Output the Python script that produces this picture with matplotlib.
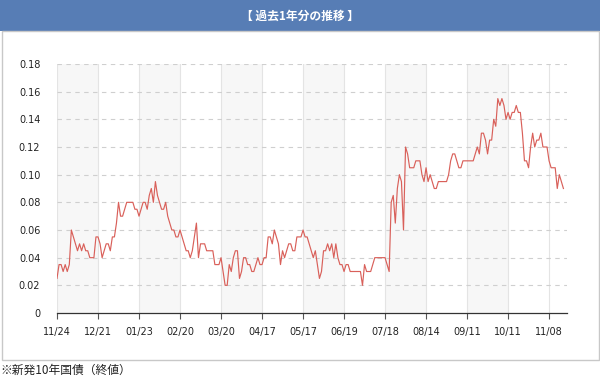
import numpy as np
import matplotlib
matplotlib.use("Agg")
import matplotlib.pyplot as plt
from matplotlib.patches import Rectangle

plt.rcParams['font.family'] = ['DejaVu Sans', 'Noto Sans CJK JP']

TITLE = "【 過去1年分の推移 】"
NOTE = "※新発10年国債（終値）"

tick_labels = ["11/24", "12/21", "01/23", "02/20", "03/20", "04/17", "05/17",
               "06/19", "07/18", "08/14", "09/11", "10/11", "11/08"]

# yield, one value per trading day (20 days between labels)
yields = [
    0.025, 0.035, 0.035, 0.03, 0.035, 0.03, 0.035, 0.06, 0.055, 0.05,
    0.045, 0.05, 0.045, 0.05, 0.045, 0.045, 0.04, 0.04, 0.04, 0.055,
    0.055, 0.05, 0.04, 0.045, 0.05, 0.05, 0.045, 0.055, 0.055, 0.065,
    0.08, 0.07, 0.07, 0.075, 0.08, 0.08, 0.08, 0.08, 0.075, 0.075,
    0.07, 0.075, 0.08, 0.08, 0.075, 0.085, 0.09, 0.08, 0.095, 0.085,
    0.08, 0.075, 0.075, 0.08, 0.07, 0.065, 0.06, 0.06, 0.055, 0.055,
    0.06, 0.055, 0.05, 0.045, 0.045, 0.04, 0.045, 0.055, 0.065, 0.04,
    0.05, 0.05, 0.05, 0.045, 0.045, 0.045, 0.045, 0.035, 0.035, 0.035,
    0.04, 0.03, 0.02, 0.02, 0.035, 0.03, 0.04, 0.045, 0.045, 0.025,
    0.03, 0.04, 0.04, 0.035, 0.035, 0.03, 0.03, 0.035, 0.04, 0.035,
    0.035, 0.04, 0.04, 0.055, 0.055, 0.05, 0.06, 0.055, 0.05, 0.035,
    0.045, 0.04, 0.045, 0.05, 0.05, 0.045, 0.045, 0.055, 0.055, 0.055,
    0.06, 0.055, 0.055, 0.05, 0.045, 0.04, 0.045, 0.035, 0.025, 0.03,
    0.045, 0.045, 0.05, 0.045, 0.05, 0.04, 0.05, 0.04, 0.035, 0.035,
    0.03, 0.035, 0.035, 0.03, 0.03, 0.03, 0.03, 0.03, 0.03, 0.02,
    0.035, 0.03, 0.03, 0.03, 0.035, 0.04, 0.04, 0.04, 0.04, 0.04,
    0.04, 0.035, 0.03, 0.08, 0.085, 0.065, 0.09, 0.1, 0.095, 0.06,
    0.12, 0.115, 0.105, 0.105, 0.105, 0.11, 0.11, 0.11, 0.1, 0.095,
    0.105, 0.095, 0.1, 0.095, 0.09, 0.09, 0.095, 0.095, 0.095, 0.095,
    0.095, 0.1, 0.11, 0.115, 0.115, 0.11, 0.105, 0.105, 0.11, 0.11,
    0.11, 0.11, 0.11, 0.11, 0.115, 0.12, 0.115, 0.13, 0.13, 0.125,
    0.115, 0.125, 0.125, 0.14, 0.135, 0.155, 0.15, 0.155, 0.15, 0.14,
    0.145, 0.14, 0.145, 0.145, 0.15, 0.145, 0.145, 0.13, 0.11, 0.11,
    0.105, 0.12, 0.13, 0.12, 0.125, 0.125, 0.13, 0.12, 0.12, 0.12,
    0.11, 0.105, 0.105, 0.105, 0.09, 0.1, 0.095, 0.09,
]

step = 20
y_ticks = [0, 0.02, 0.04, 0.06, 0.08, 0.10, 0.12, 0.14, 0.16, 0.18]

fig = plt.figure(figsize=(6, 3.79), dpi=100)

# header bar + frame
fig.patches.append(Rectangle((0, 1 - 31 / 379), 1, 31 / 379, transform=fig.transFigure,
                             facecolor="#577db5", edgecolor="none", zorder=0))
fig.patches.append(Rectangle((1.5 / 600, 1 - 360 / 379), 597 / 600, 329 / 379,
                             transform=fig.transFigure, facecolor="none",
                             edgecolor="#c8c8c8", linewidth=1, zorder=0))
fig.text(0.5, 1 - 16 / 379, TITLE, color="white", fontsize=8.5, fontweight="bold",
         ha="center", va="center", family=["Noto Sans CJK JP", "DejaVu Sans"])
fig.text(0.0, 1 - 370 / 379, NOTE, color="#222222", fontsize=8.5,
         ha="left", va="center", family=["Noto Sans CJK JP", "DejaVu Sans"])

ax = fig.add_axes([57 / 600, 66 / 379, 509.7 / 600, 249 / 379])
x = np.arange(len(yields))
xmax = 248.6
ticks = np.arange(0, len(tick_labels)) * step

# alternating bands (only between labelled ticks)
for i in range(0, len(ticks) - 1, 2):
    ax.axvspan(ticks[i], ticks[i + 1], color="#f7f7f7", zorder=0, lw=0)
for t in ticks:
    ax.axvline(t, color="#e4e4e4", lw=0.8, zorder=1)
for yv in y_ticks[1:]:
    ax.axhline(yv, color="#cfcfcf", lw=0.8, ls=(0, (4, 4)), zorder=1)

ax.plot(x, yields, color="#d9605a", lw=0.85, zorder=3)

ax.set_xlim(0, xmax)
ax.set_ylim(0, 0.18)
ax.set_xticks(ticks)
ax.set_xticklabels(tick_labels)
ax.set_yticks(y_ticks)
ax.set_yticklabels(["0"] + [f"{v:.2f}" for v in y_ticks[1:]])
ax.tick_params(axis="x", length=4, color="#555555", labelsize=7, labelcolor="#222222", pad=6)
ax.tick_params(axis="y", length=0, labelsize=7, labelcolor="#222222", pad=12)
for s in ["top", "right", "left"]:
    ax.spines[s].set_visible(False)
ax.spines["bottom"].set_color("#333333")
ax.spines["bottom"].set_linewidth(0.9)
ax.set_facecolor("none")

fig.savefig("out.png", dpi=100)
